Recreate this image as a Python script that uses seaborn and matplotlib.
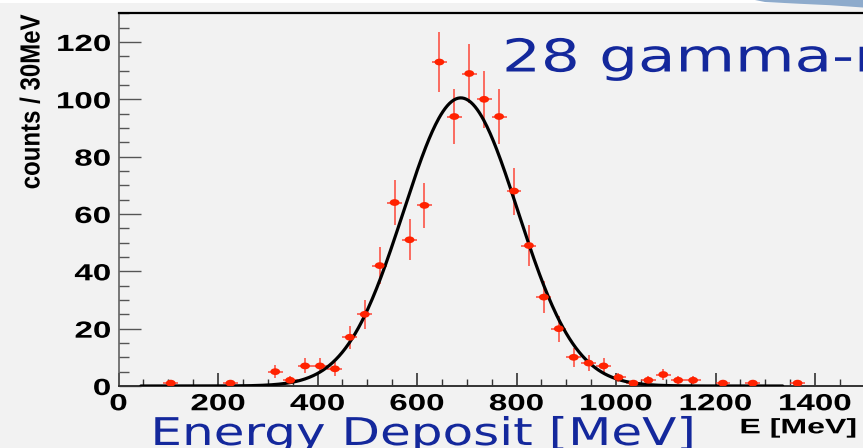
import numpy as np
import pandas as pd
import matplotlib
matplotlib.use("Agg")
import matplotlib.pyplot as plt
import seaborn as sns
from matplotlib.patheffects import AbstractPathEffect
from matplotlib.transforms import Affine2D
from matplotlib.path import Path
from matplotlib.patches import Polygon, Rectangle

# ---------------- data ----------------
bin_centers = [105, 225, 315, 345, 375, 405, 435, 465, 495, 525, 555, 585, 615,
               645, 675, 705, 735, 765, 795, 825, 855, 885, 915, 945, 975, 1005,
               1035, 1065, 1095, 1125, 1155, 1215, 1275, 1365]
counts = [1, 1, 5, 2, 7, 7, 6, 17, 25, 42, 64, 51, 63,
          113, 94, 109, 100, 94, 68, 49, 31, 20, 10, 8, 7, 3,
          1, 2, 4, 2, 2, 1, 1, 1]
count_errors = [1.0, 1.0, 2.2, 1.4, 2.6, 2.6, 2.4, 4.1, 5.0, 6.5, 8.0, 7.1, 7.9,
                10.6, 9.7, 10.4, 10.0, 9.7, 8.2, 7.0, 5.6, 4.5, 3.2, 2.8, 2.6, 1.7,
                1.0, 1.4, 2.0, 1.4, 1.4, 1.0, 1.0, 1.0]
bin_half_width = 15

# Gaussian fit parameters (as drawn)
fit_amplitude = 100.5
fit_mean = 688.0
fit_sigma = 115.0
fit_range = (45, 1335)

x_ticks = [0, 200, 400, 600, 800, 1000, 1200, 1400]
y_ticks = [0, 20, 40, 60, 80, 100, 120]
x_limits = (0, 1500)
y_limits = (0, 130)

title_text = "28 gamma-rays"
xlabel_blue = "Energy Deposit [MeV]"
xlabel_axis = "E [MeV]"
ylabel_axis = "counts / 30MeV"

# ---------------- helpers ----------------
W, H = 863, 448


def fx(x):
    return x / W


def fy(y):
    return 1 - y / H


class Stretch(AbstractPathEffect):
    """Draw text glyphs stretched (text stays a Text artist)."""

    def __init__(self, sx=1.0, sy=1.0, xanchor="center"):
        super().__init__()
        self.sx, self.sy, self.xanchor = sx, sy, xanchor

    def draw_path(self, renderer, gc, tpath, affine, rgbFace=None):
        ext = tpath.get_extents()
        if self.xanchor == "left":
            cx = 0.0
        elif self.xanchor == "right":
            cx = ext.x1
        else:
            cx = 0.5 * (ext.x0 + ext.x1)
        pre = Affine2D().translate(-cx, 0).scale(self.sx, self.sy).translate(cx, 0)
        renderer.draw_path(gc, tpath, pre + affine, rgbFace)


sns.set_style("ticks")
plt.rcParams["font.family"] = ["Liberation Sans", "DejaVu Sans"]

BG = "#f2f2f2"
RED = "#ff2200"
BLUE = "#14289c"

fig = plt.figure(figsize=(W / 100, H / 100), dpi=100, facecolor=BG)

# slide decorations
fig.patches.append(Rectangle((0, fy(3)), 1, 3 / H, transform=fig.transFigure,
                             facecolor="white", edgecolor="none", zorder=0))
swoosh = [(755, 0), (765, 2), (800, 3.8), (830, 5.2), (863, 7.5), (863, 0)]
fig.patches.append(Polygon([(fx(a), fy(b)) for a, b in swoosh], closed=True,
                           transform=fig.transFigure, facecolor="#8eabcc",
                           edgecolor="none", zorder=1))

ax_left, ax_bottom = fx(118.5), fy(386)
ax_w = (x_limits[1] - x_limits[0]) * 0.4975 / W
ax_h = (386 - 13.3) / H
ax = fig.add_axes([ax_left, ax_bottom, ax_w, ax_h])
ax.set_facecolor(BG)

df = pd.DataFrame({"E": bin_centers, "counts": counts, "err": count_errors})

ax.errorbar(df["E"], df["counts"], xerr=bin_half_width, yerr=df["err"], fmt="none",
            ecolor="#ff3020", elinewidth=1.3, alpha=0.75, capsize=0, zorder=3)

fit_x = np.linspace(fit_range[0], fit_range[1], 600)
fit_y = fit_amplitude * np.exp(-0.5 * ((fit_x - fit_mean) / fit_sigma) ** 2)
sns.lineplot(x=fit_x, y=fit_y, ax=ax, color="black", linewidth=2.3, zorder=4,
             estimator=None, sort=False)

ellipse = Path.unit_circle().transformed(Affine2D().scale(1.45, 1.0))
sns.scatterplot(data=df, x="E", y="counts", ax=ax, marker=ellipse, s=50,
                color=RED, edgecolor="none", linewidth=0, zorder=5)

ax.set_xlim(*x_limits)
ax.set_ylim(*y_limits)
ax.set_xticks(x_ticks)
ax.set_yticks(y_ticks)
ax.set_xticks(np.arange(0, 1501, 50), minor=True)
ax.set_yticks(np.arange(0, 131, 5), minor=True)
ax.set_xlabel("")
ax.set_ylabel("")

ax.tick_params(axis="x", which="major", direction="in", length=9.4, width=1.1,
               color="#222222", pad=4.5)
ax.tick_params(axis="x", which="minor", direction="in", length=5, width=1.0,
               color="#333333")
ax.tick_params(axis="y", which="major", direction="in", length=15.8, width=1.0,
               color="#555555", pad=5.5)
ax.tick_params(axis="y", which="minor", direction="in", length=7.2, width=1.0,
               color="#555555")

for lab in ax.get_xticklabels():
    lab.set_fontfamily("Liberation Sans")
    lab.set_fontweight("bold")
    lab.set_fontsize(16.8)
    lab.set_color("black")
    lab.set_path_effects([Stretch(sx=1.42, xanchor="center")])
for lab in ax.get_yticklabels():
    lab.set_fontfamily("Liberation Sans")
    lab.set_fontweight("bold")
    lab.set_fontsize(16.8)
    lab.set_color("black")
    lab.set_path_effects([Stretch(sx=1.42, xanchor="right")])

ax.spines["right"].set_visible(False)
ax.spines["top"].set_color("black")
ax.spines["top"].set_linewidth(1.6)
ax.spines["left"].set_color("#555555")
ax.spines["left"].set_linewidth(1.1)
ax.spines["bottom"].set_color("#333333")
ax.spines["bottom"].set_linewidth(1.4)

# axis titles
fig.text(fx(33), fy(102), ylabel_axis, rotation=90, ha="center", va="center",
         fontfamily="Liberation Sans", fontweight="bold", fontsize=17.3,
         color="black", path_effects=[Stretch(sy=1.15, xanchor="center")])
fig.text(fx(739.4), fy(433.3), xlabel_axis, ha="left", va="baseline",
         fontfamily="Liberation Sans", fontweight="bold", fontsize=15.1,
         color="black", path_effects=[Stretch(sx=1.53, xanchor="left")])

# blue slide texts
fig.text(fx(502), fy(71.5), title_text, ha="left", va="baseline",
         fontfamily="DejaVu Sans", fontsize=32.6, color=BLUE,
         path_effects=[Stretch(sx=1.35, xanchor="left")])
fig.text(fx(150.4), fy(445), xlabel_blue, ha="left", va="baseline",
         fontfamily="DejaVu Sans", fontsize=27.5, color=BLUE,
         path_effects=[Stretch(sx=1.31, xanchor="left")])

fig.savefig("out.png", dpi=100, facecolor=BG)
